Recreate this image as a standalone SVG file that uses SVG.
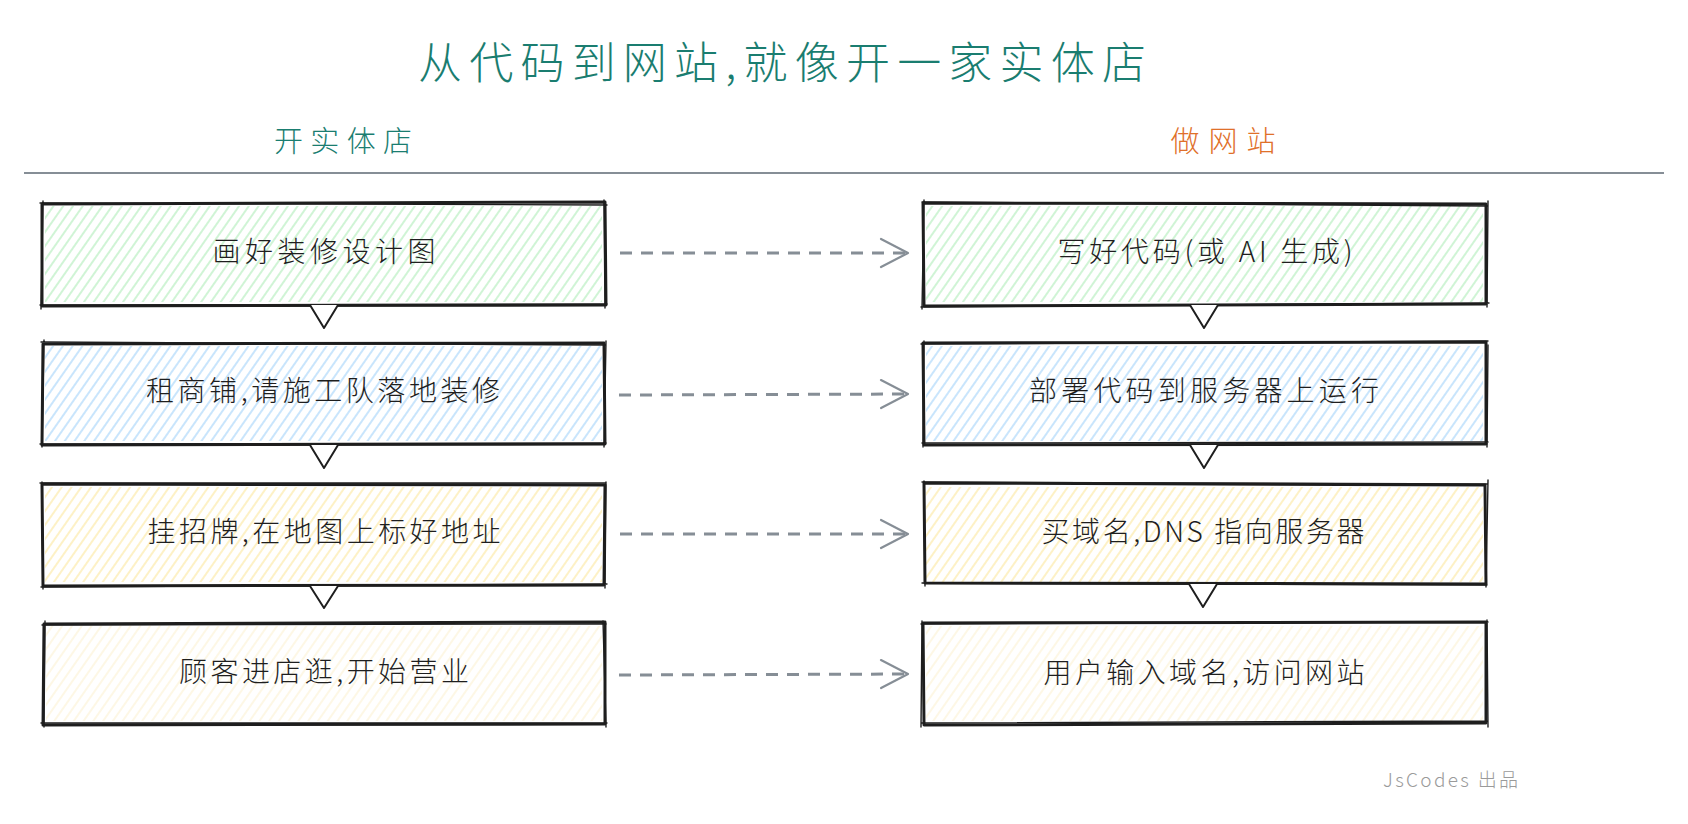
<svg xmlns="http://www.w3.org/2000/svg" width="1688" height="824" viewBox="0 0 1688 824">
<style>
  .cjk { font-family: "Noto Sans CJK SC", "Noto Sans", "Liberation Sans", sans-serif; font-weight: 300; }
  .title { font-size: 44px; fill: #1a7d70; }
  .sub { font-size: 29px; }
  .lbl { font-size: 28px; fill: #1e1e1e; }
  .box { fill: none; stroke: #1e1e1e; stroke-width: 3; stroke-linejoin: round; stroke-linecap: round; }
  .box2 { fill: none; stroke: #1e1e1e; stroke-width: 1.4; stroke-linecap: round; }
  .dash { fill: none; stroke: #868e96; stroke-width: 3; stroke-dasharray: 12 9; }
  .head { fill: none; stroke: #868e96; stroke-width: 2.2; stroke-linecap: round; stroke-linejoin: round; }
  .tri { fill: #ffffff; stroke: #1e1e1e; stroke-width: 2; stroke-linejoin: round; }
</style>
<defs>
  <pattern id="hG" patternUnits="userSpaceOnUse" width="8" height="8" patternTransform="rotate(35)">
    <line x1="2" y1="0" x2="2" y2="8" stroke="#a9ebb3" stroke-width="1.1"/>
  </pattern>
  <pattern id="hB" patternUnits="userSpaceOnUse" width="8" height="8" patternTransform="rotate(35)">
    <line x1="2" y1="0" x2="2" y2="8" stroke="#9ccffa" stroke-width="1.1"/>
  </pattern>
  <pattern id="hY" patternUnits="userSpaceOnUse" width="8" height="8" patternTransform="rotate(35)">
    <line x1="2" y1="0" x2="2" y2="8" stroke="#fbe597" stroke-width="1.1"/>
  </pattern>
  <pattern id="hC" patternUnits="userSpaceOnUse" width="8" height="8" patternTransform="rotate(35)">
    <line x1="2" y1="0" x2="2" y2="8" stroke="#fcf1cf" stroke-width="1.1"/>
  </pattern>
  <marker id="chev" markerUnits="userSpaceOnUse" viewBox="-2 -2 32 32" refX="27" refY="14" markerWidth="32" markerHeight="32" orient="auto">
    <path class="head" d="M0,0 L27,14 L0,28"/>
  </marker>
</defs>

<rect width="1688" height="824" fill="#ffffff"/>

<g id="title">
  <text class="cjk title" x="782" y="60" text-anchor="middle" dominant-baseline="central" textLength="728" lengthAdjust="spacing">从代码到网站,就像开一家实体店</text>
</g>
<g id="header-left">
  <text class="cjk sub" x="343" y="139" text-anchor="middle" dominant-baseline="central" fill="#1a7d70" textLength="138" lengthAdjust="spacing">开实体店</text>
</g>
<g id="header-right">
  <text class="cjk sub" x="1223" y="139" text-anchor="middle" dominant-baseline="central" fill="#e0702a" textLength="105" lengthAdjust="spacing">做网站</text>
</g>
<g id="divider">
  <line x1="24" y1="173" x2="1664" y2="173" stroke="#868e96" stroke-width="2"/>
</g>

<!-- Left column -->
<g id="L1">
  <rect x="45" y="206" width="557" height="96" fill="url(#hG)"/>
  <path class="box" d="M42,204 L605,202 L606,305 L42,306 Z"/>
  <path class="box2" d="M40,203 L607,205 M604,200 L605,308 M607,304 L40,305 M43,201 L41,309"/>
  <text class="cjk lbl" x="324" y="250" text-anchor="middle" dominant-baseline="central" textLength="223" lengthAdjust="spacing">画好装修设计图</text>
</g>
<g id="L2">
  <rect x="45" y="346" width="557" height="95" fill="url(#hB)"/>
  <path class="box" d="M43,344 L604,343 L605,444 L42,445 Z"/>
  <path class="box2" d="M41,342 L606,345 M606,341 L604,447 M606,443 L40,444 M44,340 L42,447"/>
  <text class="cjk lbl" x="323" y="389" text-anchor="middle" dominant-baseline="central" textLength="354" lengthAdjust="spacing">租商铺,请施工队落地装修</text>
</g>
<g id="L3">
  <rect x="45" y="487" width="557" height="95" fill="url(#hY)"/>
  <path class="box" d="M42,484 L605,485 L604,585 L43,586 Z"/>
  <path class="box2" d="M40,483 L606,483 M606,482 L605,588 M607,584 L41,587 M42,482 L43,589"/>
  <text class="cjk lbl" x="324" y="530" text-anchor="middle" dominant-baseline="central" textLength="353" lengthAdjust="spacing">挂招牌,在地图上标好地址</text>
</g>
<g id="L4">
  <rect x="46" y="626" width="556" height="95" fill="url(#hC)"/>
  <path class="box" d="M44,624 L605,622 L605,724 L43,725 Z"/>
  <path class="box2" d="M42,625 L606,624 M603,621 L606,727 M607,723 L41,723 M45,621 L44,727"/>
  <text class="cjk lbl" x="324" y="670" text-anchor="middle" dominant-baseline="central" textLength="290" lengthAdjust="spacing">顾客进店逛,开始营业</text>
</g>

<!-- Right column -->
<g id="R1">
  <rect x="926" y="206" width="557" height="96" fill="url(#hG)"/>
  <path class="box" d="M923,203 L1486,204 L1486,304 L924,306 Z"/>
  <path class="box2" d="M922,202 L1487,206 M1488,201 L1487,307 M1489,303 L921,307 M924,200 L922,309"/>
  <text class="cjk lbl" x="1205" y="250" text-anchor="middle" dominant-baseline="central" textLength="295" lengthAdjust="spacing">写好代码(或 AI 生成)</text>
</g>
<g id="R2">
  <rect x="926" y="346" width="557" height="95" fill="url(#hB)"/>
  <path class="box" d="M923,343 L1486,342 L1486,444 L924,445 Z"/>
  <path class="box2" d="M921,344 L1488,341 M1488,345 L1487,447 M1488,442 L922,443 M924,341 L923,447"/>
  <text class="cjk lbl" x="1204" y="389" text-anchor="middle" dominant-baseline="central" textLength="350" lengthAdjust="spacing">部署代码到服务器上运行</text>
</g>
<g id="R3">
  <rect x="926" y="487" width="557" height="95" fill="url(#hY)"/>
  <path class="box" d="M924,483 L1485,485 L1486,584 L925,583 Z"/>
  <path class="box2" d="M922,482 L1487,484 M1488,480 L1486,587 M1487,585 L922,583 M924,481 L925,586"/>
  <text class="cjk lbl" x="1203" y="530" text-anchor="middle" dominant-baseline="central" textLength="323" lengthAdjust="spacing">买域名,DNS 指向服务器</text>
</g>
<g id="R4">
  <rect x="926" y="626" width="557" height="95" fill="url(#hC)"/>
  <path class="box" d="M923,623 L1486,622 L1486,723 L924,725 Z"/>
  <path class="box2" d="M921,624 L1488,622 M1487,620 L1488,727 M1488,721 L922,723 M922,621 L921,727"/>
  <text class="cjk lbl" x="1204" y="671" text-anchor="middle" dominant-baseline="central" textLength="321" lengthAdjust="spacing">用户输入域名,访问网站</text>
</g>

<g id="connectors">
  <path class="dash" d="M620,253 L908,253" marker-end="url(#chev)"/>
  <path class="dash" d="M619,395 L908,394" marker-end="url(#chev)"/>
  <path class="dash" d="M620,534 L908,534" marker-end="url(#chev)"/>
  <path class="dash" d="M619,675 L908,674" marker-end="url(#chev)"/>
  <path class="tri" d="M310,305 L324,328 L338,305"/>
  <path class="tri" d="M310,445 L324,468 L338,445"/>
  <path class="tri" d="M310,586 L324,608 L338,586"/>
  <path class="tri" d="M1190,305 L1204,328 L1218,305"/>
  <path class="tri" d="M1190,445 L1204,468 L1218,445"/>
  <path class="tri" d="M1189,584 L1203,607 L1217,584"/>
</g>

<g id="credit">
  <text class="cjk" x="1383" y="778" dominant-baseline="central" font-size="19" fill="#9a9a9a" textLength="135" lengthAdjust="spacing">JsCodes 出品</text>
</g>
</svg>
